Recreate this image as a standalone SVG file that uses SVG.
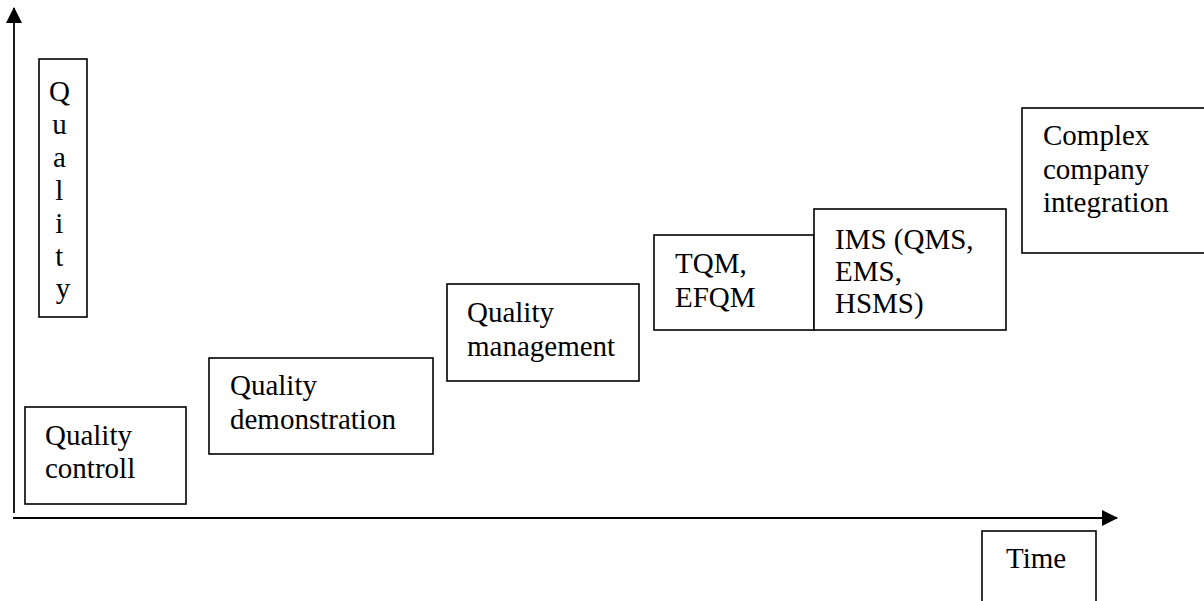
<svg xmlns="http://www.w3.org/2000/svg" width="1204" height="601" viewBox="0 0 1204 601">
<style>
  .box { fill: #ffffff; stroke: #000000; stroke-width: 1.6; }
  .lbl { font-family: "Liberation Serif", "Times New Roman", serif; font-size: 29px; fill: #000000; }
  .axis { stroke: #000000; stroke-width: 1.8; fill: none; }
</style>
<defs>
  <marker id="arrow" viewBox="0 0 16 16" refX="15" refY="8" markerWidth="16" markerHeight="16" markerUnits="userSpaceOnUse" orient="auto">
    <path d="M0,0 L16,8 L0,16 Z" fill="#000000"/>
  </marker>
</defs>
<rect width="1204" height="601" fill="#ffffff"/>
<g id="connectors">
  <line class="axis" x1="14" y1="513" x2="14" y2="8" marker-end="url(#arrow)"/>
  <line class="axis" x1="13" y1="518" x2="1117" y2="518" marker-end="url(#arrow)"/>
</g>
<g id="quality-axis-label">
  <rect class="box" x="39" y="59" width="48" height="258"/>
  <text class="lbl" x="63" text-anchor="middle">
    <tspan x="63" y="101">Q</tspan>
    <tspan x="63" y="134">u</tspan>
    <tspan x="63" y="167">a</tspan>
    <tspan x="63" y="200">l</tspan>
    <tspan x="63" y="233">i</tspan>
    <tspan x="63" y="266">t</tspan>
    <tspan x="63" y="298">y</tspan>
  </text>
</g>
<g id="quality-controll">
  <rect class="box" x="25" y="407" width="161" height="97"/>
  <text class="lbl"><tspan x="45" y="445">Quality</tspan><tspan x="45" y="478">controll</tspan></text>
</g>
<g id="quality-demonstration">
  <rect class="box" x="209" y="358" width="224" height="96"/>
  <text class="lbl"><tspan x="230" y="395">Quality</tspan><tspan x="230" y="429">demonstration</tspan></text>
</g>
<g id="quality-management">
  <rect class="box" x="447" y="284" width="192" height="97"/>
  <text class="lbl"><tspan x="467" y="322">Quality</tspan><tspan x="467" y="356">management</tspan></text>
</g>
<g id="tqm-efqm">
  <rect class="box" x="654" y="235" width="160" height="95"/>
  <text class="lbl"><tspan x="675" y="273">TQM,</tspan><tspan x="675" y="307">EFQM</tspan></text>
</g>
<g id="ims">
  <rect class="box" x="814" y="209" width="192" height="121"/>
  <text class="lbl"><tspan x="835" y="249">IMS (QMS,</tspan><tspan x="835" y="281">EMS,</tspan><tspan x="835" y="313">HSMS)</tspan></text>
</g>
<g id="complex-company-integration">
  <rect class="box" x="1022" y="108" width="190" height="145"/>
  <text class="lbl"><tspan x="1043" y="145">Complex</tspan><tspan x="1043" y="179">company</tspan><tspan x="1043" y="212">integration</tspan></text>
</g>
<g id="time-axis-label">
  <rect class="box" x="982" y="531" width="114" height="80"/>
  <text class="lbl"><tspan x="1006" y="568">Time</tspan></text>
</g>
</svg>
